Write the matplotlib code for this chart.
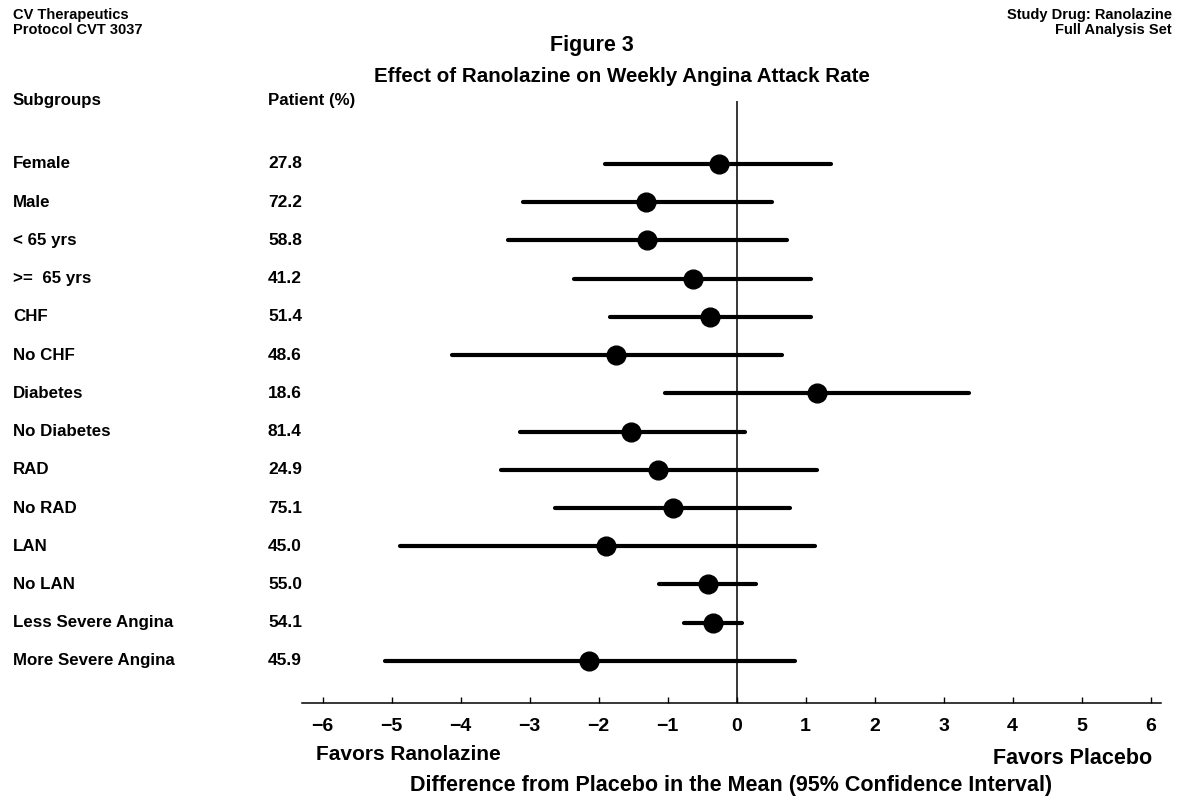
import matplotlib
matplotlib.use("Agg")
import matplotlib.pyplot as plt
from matplotlib import transforms

plt.rcParams["font.family"] = ["Liberation Sans", "DejaVu Sans"]
plt.rcParams["font.weight"] = "bold"

# subgroup data
subgroups = ["Female", "Male", "< 65 yrs", ">=  65 yrs", "CHF", "No CHF",
             "Diabetes", "No Diabetes", "RAD", "No RAD", "LAN", "No LAN",
             "Less Severe Angina", "More Severe Angina"]
patient_pct = ["27.8", "72.2", "58.8", "41.2", "51.4", "48.6", "18.6",
               "81.4", "24.9", "75.1", "45.0", "55.0", "54.1", "45.9"]
mean_diff = [-0.26, -1.31, -1.30, -0.64, -0.38, -1.75, 1.17,
             -1.53, -1.14, -0.93, -1.89, -0.42, -0.34, -2.14]
ci_low = [-1.91, -3.10, -3.31, -2.36, -1.83, -4.13, -1.04,
          -3.14, -3.41, -2.63, -4.88, -1.13, -0.77, -5.10]
ci_high = [1.37, 0.51, 0.73, 1.08, 1.07, 0.65, 3.36,
           0.12, 1.16, 0.78, 1.14, 0.28, 0.08, 0.85]
xticks = [-6, -5, -4, -3, -2, -1, 0, 1, 2, 3, 4, 5, 6]

W, H = 1182, 797
fig = plt.figure(figsize=(W / 100, H / 100), dpi=100)

def fx(px):
    return px / W

def fy(py):
    return 1 - py / H

ax = fig.add_axes([fx(302), fy(703), fx(1161) - fx(302), fy(101) - fy(703)])
rows = list(range(len(subgroups)))

ax.hlines(rows, ci_low, ci_high, color="black", lw=3.0, capstyle="round")
ax.plot(mean_diff, rows, "o", color="black", markersize=13.5, zorder=3)
ax.axvline(0, color="black", lw=1.1)

ax.set_xlim(-6.3, 6.15)
ax.set_ylim(14.10, -1.648)
for s in ["top", "right", "left"]:
    ax.spines[s].set_visible(False)
ax.spines["bottom"].set_linewidth(1.1)
ax.set_yticks([])
ax.set_xticks(xticks)
ax.tick_params(axis="x", direction="in", length=4, width=1, pad=11, labelsize=14)
for lab in ax.get_xticklabels():
    lab.set_fontweight("bold")

# row labels on the left
trans = transforms.blended_transform_factory(fig.transFigure, ax.transData)
for i in rows:
    ax.text(fx(13), i, subgroups[i], transform=trans, ha="left", va="center", fontsize=12.2)
    ax.text(fx(268), i, patient_pct[i], transform=trans, ha="left", va="center", fontsize=12.5)
ax.text(fx(13), -1.67, "Subgroups", transform=trans, ha="left", va="center", fontsize=12.2)
ax.text(fx(268), -1.67, "Patient (%)", transform=trans, ha="left", va="center", fontsize=12.2)

# header texts
fig.text(fx(13), fy(15), "CV Therapeutics", ha="left", va="center", fontsize=10.5)
fig.text(fx(13), fy(30), "Protocol CVT 3037", ha="left", va="center", fontsize=10.5)
fig.text(fx(1172), fy(15), "Study Drug: Ranolazine", ha="right", va="center", fontsize=10.5)
fig.text(fx(1172), fy(30), "Full Analysis Set", ha="right", va="center", fontsize=10.5)
fig.text(fx(592), fy(45), "Figure 3", ha="center", va="center", fontsize=15.5)
fig.text(fx(622), fy(76), "Effect of Ranolazine on Weekly Angina Attack Rate",
         ha="center", va="center", fontsize=14.8)

# bottom texts
fig.text(fx(316), fy(755), "Favors Ranolazine", ha="left", va="center", fontsize=15)
fig.text(fx(1152), fy(759), "Favors Placebo", ha="right", va="center", fontsize=15.5)
fig.text(fx(731), fy(785), "Difference from Placebo in the Mean (95% Confidence Interval)",
         ha="center", va="center", fontsize=15.5)

plt.savefig("out.png", dpi=100)
